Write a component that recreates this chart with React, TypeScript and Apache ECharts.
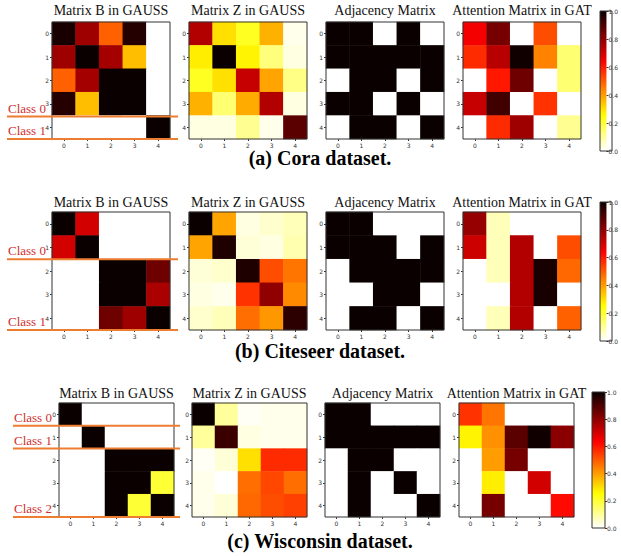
import React, { useEffect, useRef } from "react";
import * as echarts from "echarts";

// ---------- data ----------
const CATS = ["0", "1", "2", "3", "4"];
const TITLES = ["Matrix B in GAUSS", "Matrix Z in GAUSS", "Adjacency Matrix", "Attention Matrix in GAT"];
const CAPTIONS = ["(a) Cora dataset.", "(b) Citeseer dataset.", "(c) Wisconsin dataset."];
const CB_TICKS = [0, 0.2, 0.4, 0.6, 0.8, 1.0];
const CLASS_BOUNDS = [[4, 5], [2, 5], [1, 2, 5]];

const coraB = [
  [0.98, 0.78, 0.49, 0.96, 0],
  [0.78, 1.0, 0.77, 0.35, 0],
  [0.49, 0.77, 1.0, 1.0, 0],
  [0.96, 0.35, 1.0, 1.0, 0],
  [0, 0, 0, 0, 1.0],
];
const coraZ = [
  [0.75, 0.3, 0.22, 0.37, 0.02],
  [0.28, 1.0, 0.27, 0.13, 0.03],
  [0.22, 0.3, 0.72, 0.39, 0.12],
  [0.37, 0.14, 0.38, 0.75, 0.03],
  [0.03, 0.03, 0.11, 0.02, 0.88],
];
const coraAdj = [
  [1, 1, 0, 1, 0],
  [1, 1, 1, 1, 1],
  [0, 1, 1, 0, 1],
  [1, 1, 0, 1, 0],
  [0, 1, 1, 0, 1],
];
const coraAtt = [
  [0.65, 0.84, 0, 0.52, 0],
  [0.57, 0.74, 0.99, 0.44, 0.14],
  [0, 0.6, 0.85, 0, 0.14],
  [0.72, 0.92, 0, 0.56, 0],
  [0, 0.57, 0.78, 0, 0.11],
];

const citeB = [
  [1.0, 0.7, 0, 0, 0],
  [0.7, 1.0, 0, 0, 0],
  [0, 0, 1.0, 1.0, 0.85],
  [0, 0, 1.0, 1.0, 0.76],
  [0, 0, 0.85, 0.78, 1.0],
];
const citeZ = [
  [1.0, 0.39, 0.03, 0.05, 0.07],
  [0.39, 0.97, 0.04, 0.03, 0.08],
  [0.04, 0.05, 0.97, 0.52, 0.46],
  [0.03, 0.02, 0.56, 0.8, 0.43],
  [0.05, 0.07, 0.47, 0.41, 0.95],
];
const citeAdj = [
  [1, 1, 0, 0, 0],
  [1, 1, 1, 0, 1],
  [0, 1, 1, 1, 1],
  [0, 0, 1, 1, 0],
  [0, 1, 1, 0, 1],
];
const citeAtt = [
  [0.79, 0.07, 0, 0, 0],
  [0.71, 0.07, 0.75, 0, 0.52],
  [0, 0.07, 0.75, 0.98, 0.48],
  [0, 0, 0.75, 0.98, 0],
  [0, 0.07, 0.75, 0, 0.49],
];

const wiscB = [
  [1, 0, 0, 0, 0],
  [0, 1, 0, 0, 0],
  [0, 0, 1, 1, 1],
  [0, 0, 1, 1, 0.2],
  [0, 0, 1, 0.2, 1],
];
const wiscZ = [
  [1.0, 0.1, 0.01, 0.02, 0.02],
  [0.1, 0.93, 0.03, 0.02, 0.02],
  [0.01, 0.04, 0.3, 0.57, 0.57],
  [0.02, 0.0, 0.47, 0.53, 0.47],
  [0.02, 0.04, 0.48, 0.52, 0.54],
];
const wiscAdj = [
  [1, 1, 0, 0, 0],
  [1, 1, 1, 1, 1],
  [0, 1, 1, 0, 0],
  [0, 1, 0, 1, 0],
  [0, 1, 0, 0, 1],
];
const wiscAtt = [
  [0.56, 0.46, 0, 0, 0],
  [0.27, 0.42, 0.88, 0.99, 0.81],
  [0, 0.4, 0.84, 0, 0],
  [0, 0.28, 0, 0.7, 0],
  [0, 0.84, 0, 0, 0.62],
];

const MATRICES = [
  [coraB, coraZ, coraAdj, coraAtt],
  [citeB, citeZ, citeAdj, citeAtt],
  [wiscB, wiscZ, wiscAdj, wiscAtt],
];

// ---------- layout ----------
const LAYOUT = [
  { lefts: [52, 189, 326, 463], top: 22, w: 118, h: 117, cb: [600, 11, 12, 140], titleY: 10, capY: 158, classX: 7, lineX2: 178 },
  { lefts: [52, 189, 326, 463], top: 212, w: 118, h: 118, cb: [600, 202, 12, 139], titleY: 202, capY: 351, classX: 7, lineX2: 178 },
  { lefts: [59, 192, 325, 459], top: 403, w: 115, h: 114, cb: [592, 392, 13, 136], titleY: 393, capY: 541, classX: 13, lineX2: 180 },
];

function hotR(v: number): string {
  const x = 1 - v;
  const r = x < 0.365079 ? 0.0416 + (1 - 0.0416) * (x / 0.365079) : 1;
  const g = x < 0.365079 ? 0 : x < 0.746032 ? (x - 0.365079) / (0.746032 - 0.365079) : 1;
  const b = x < 0.746032 ? 0 : (x - 0.746032) / (1 - 0.746032);
  return `rgb(${Math.round(r * 255)},${Math.round(g * 255)},${Math.round(b * 255)})`;
}

const SERIF = "Liberation Serif";
const SANS = "DejaVu Sans";

export default function App() {
  const ref = useRef<HTMLDivElement>(null);
  useEffect(() => {
    if (!ref.current) return;
    const chart = echarts.init(ref.current, undefined, { renderer: "svg" });

    const colors: string[] = [];
    for (let i = 0; i <= 40; i++) colors.push(hotR(i / 40));
    const stops = colors.map((c, i) => ({ offset: i / 40, color: c }));

    const grid: any[] = [];
    const xAxis: any[] = [];
    const yAxis: any[] = [];
    const series: any[] = [];
    const graphic: any[] = [];
    const heatIdx: number[] = [];

    const tickLabel = () => ({ fontSize: 6, color: "#333", fontFamily: SANS, margin: 3 });
    const tick = () => ({ show: true, length: 2, alignWithLabel: true, lineStyle: { color: "#333" } });

    LAYOUT.forEach((L, r) => {
      MATRICES[r].forEach((M, c) => {
        const gi = grid.length;
        grid.push({ left: L.lefts[c], top: L.top, width: L.w, height: L.h });
        xAxis.push({
          gridIndex: gi, type: "category", data: CATS, position: "bottom",
          axisLine: { show: false }, axisTick: tick(), axisLabel: tickLabel(), splitLine: { show: false },
        });
        yAxis.push({
          gridIndex: gi, type: "category", data: CATS, inverse: true,
          axisLine: { show: false }, axisTick: tick(), axisLabel: tickLabel(), splitLine: { show: false },
        });
        heatIdx.push(series.length);
        series.push({
          type: "heatmap", xAxisIndex: gi, yAxisIndex: gi, silent: true,
          data: M.flatMap((row, i) => row.map((v, j) => [j, i, v])),
          itemStyle: { borderWidth: 0 },
        });
        graphic.push({
          type: "rect", z: 100, silent: true,
          shape: { x: L.lefts[c], y: L.top, width: L.w, height: L.h },
          style: { fill: "none", stroke: "#333", lineWidth: 1 },
        });
        graphic.push({
          type: "text", z: 100, silent: true,
          x: L.lefts[c] + L.w / 2, y: L.titleY,
          style: { text: TITLES[c], fontSize: 14, fontFamily: SERIF, fill: "#111", textAlign: "center", textVerticalAlign: "middle" },
        });
      });

      // colorbar
      const [cx, cy, cw, ch] = L.cb;
      const gi = grid.length;
      grid.push({ left: cx, top: cy, width: cw, height: ch });
      xAxis.push({ gridIndex: gi, type: "category", data: [""], show: false });
      yAxis.push({
        gridIndex: gi, type: "value", min: 0, max: 1, interval: 0.2, position: "right",
        axisLine: { show: false }, splitLine: { show: false },
        axisTick: { show: true, length: 2, lineStyle: { color: "#333" } },
        axisLabel: { fontSize: 6, color: "#333", fontFamily: SANS, margin: 2, formatter: (v: number) => v.toFixed(1),
          customValues: CB_TICKS },
      });
      series.push({
        type: "bar", xAxisIndex: gi, yAxisIndex: gi, silent: true, data: [1], barWidth: "100%",
        itemStyle: { color: new echarts.graphic.LinearGradient(0, 1, 0, 0, stops) },
      });
      graphic.push({
        type: "rect", z: 100, silent: true,
        shape: { x: cx, y: cy, width: cw, height: ch },
        style: { fill: "none", stroke: "#333", lineWidth: 1 },
      });

      // class labels and lines
      CLASS_BOUNDS[r].forEach((b, k) => {
        const ly = L.top + (L.h * b) / 5 + (r === 0 && b === 4 ? 1 : 0);
        graphic.push({
          type: "line", z: 110, silent: true,
          shape: { x1: L.classX, y1: ly, x2: L.lineX2, y2: ly },
          style: { stroke: "#ed7d31", lineWidth: 2 },
        });
        graphic.push({
          type: "text", z: 110, silent: true, x: L.classX + 1, y: ly - 2,
          style: { text: `Class ${k}`, fontSize: 13, fontFamily: SERIF, fill: "#d03030", textAlign: "left", textVerticalAlign: "bottom" },
        });
      });

      graphic.push({
        type: "text", z: 100, silent: true, x: 320, y: L.capY,
        style: { text: CAPTIONS[r], fontSize: 20, fontWeight: "bold", fontFamily: SERIF, fill: "#000", textAlign: "center", textVerticalAlign: "middle" },
      });
    });

    chart.setOption({
      animation: false,
      backgroundColor: "#fff",
      grid, xAxis, yAxis, series, graphic,
      visualMap: {
        type: "continuous", show: false, min: 0, max: 1, seriesIndex: heatIdx,
        inRange: { color: colors },
      },
    });
    return () => chart.dispose();
  }, []);
  return <div ref={ref} style={{ position: "fixed", left: 0, top: 0, width: 621, height: 556, background: "#fff" }} />;
}
